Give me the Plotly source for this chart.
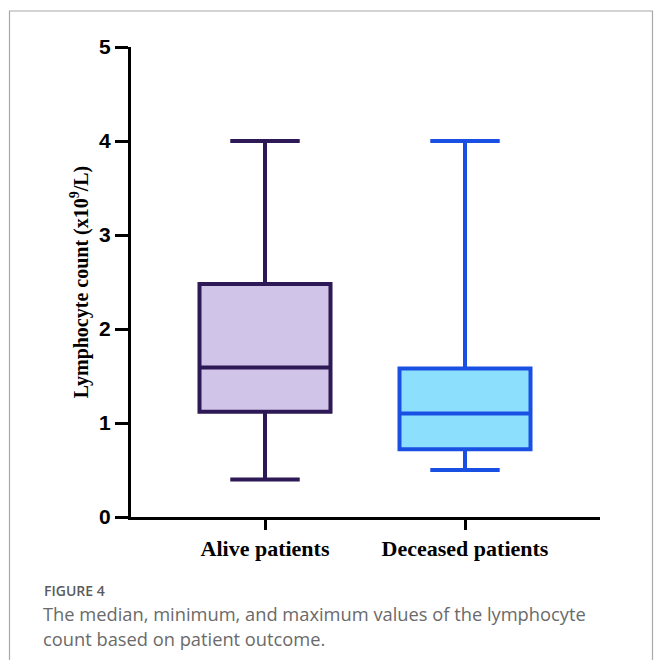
import plotly.graph_objects as go

categories = ["Alive patients", "Deceased patients"]
minimum = [0.40, 0.50]
q1 = [1.12, 0.72]
median = [1.59, 1.10]
q3 = [2.48, 1.58]
maximum = [4.00, 4.00]
line_colors = ["#2c1955", "#1a4fe3"]
fill_colors = ["#d0c5e8", "#8ce0fd"]
y_ticks = [0, 1, 2, 3, 4, 5]

W, H = 654, 660
L, R, T, B = 131, 54, 47, 143
pw = W - L - R
ph = H - T - B

def px_x(p):
    return (p - L) / pw

def px_y(p):
    return (H - B - p) / ph

fig = go.Figure()
for i, cat in enumerate(categories):
    fig.add_trace(go.Box(
        x=[cat], q1=[q1[i]], median=[median[i]], q3=[q3[i]],
        lowerfence=[minimum[i]], upperfence=[maximum[i]],
        width=0.655, whiskerwidth=0.53,
        line=dict(color=line_colors[i], width=4),
        fillcolor=fill_colors[i], boxpoints=False,
        showlegend=False, hoverinfo="skip",
    ))

fig.update_layout(
    width=W, height=H, margin=dict(l=L, r=R, t=T, b=B, autoexpand=False),
    paper_bgcolor="white", plot_bgcolor="white", boxmode="overlay",
    xaxis=dict(
        type="category", categoryorder="array", categoryarray=categories,
        range=[-0.67, 1.675], showline=True, linecolor="black", linewidth=3,
        ticks="outside", ticklen=10, tickwidth=3, tickcolor="black",
        showgrid=False, zeroline=False, automargin=False,
        tickfont=dict(family="Liberation Serif", size=22, color="black", weight="bold"),
    ),
    yaxis=dict(
        range=[0, 5], tickvals=y_ticks, showline=True, linecolor="black", linewidth=3,
        ticks="outside", ticklen=13, tickwidth=3, tickcolor="black",
        showgrid=False, zeroline=False, automargin=False,
        tickfont=dict(family="Liberation Sans", size=21, color="black", weight="bold"),
        title=dict(text="Lymphocyte count (x10<sup>9</sup>/L)", standoff=6,
                   font=dict(family="Liberation Serif", size=20, color="black", weight="bold")),
    ),
)

fig.add_shape(type="rect", xref="paper", yref="paper",
              x0=px_x(9.5), x1=px_x(652.5), y0=px_y(720), y1=px_y(11),
              line=dict(color="#a9a9a9", width=1.2), fillcolor="rgba(0,0,0,0)", layer="below")

fig.add_annotation(text="FIGURE 4", xref="paper", yref="paper",
                   x=px_x(42), y=px_y(590), xanchor="left", yanchor="middle", showarrow=False,
                   font=dict(family="Open Sans", size=14, color="#5b5b5b", weight=600))
fig.add_annotation(text="The median, minimum, and maximum values of the lymphocyte",
                   xref="paper", yref="paper", x=px_x(41), y=px_y(613), xanchor="left", yanchor="middle",
                   showarrow=False, font=dict(family="Open Sans", size=18.3, color="#6a6a6a"))
fig.add_annotation(text="count based on patient outcome.",
                   xref="paper", yref="paper", x=px_x(41), y=px_y(638), xanchor="left", yanchor="middle",
                   showarrow=False, font=dict(family="Open Sans", size=18.3, color="#6a6a6a"))

fig.write_html("out.html", config={"displayModeBar": False},
               post_script="document.body.style.margin='0';document.body.style.overflow='hidden';")
